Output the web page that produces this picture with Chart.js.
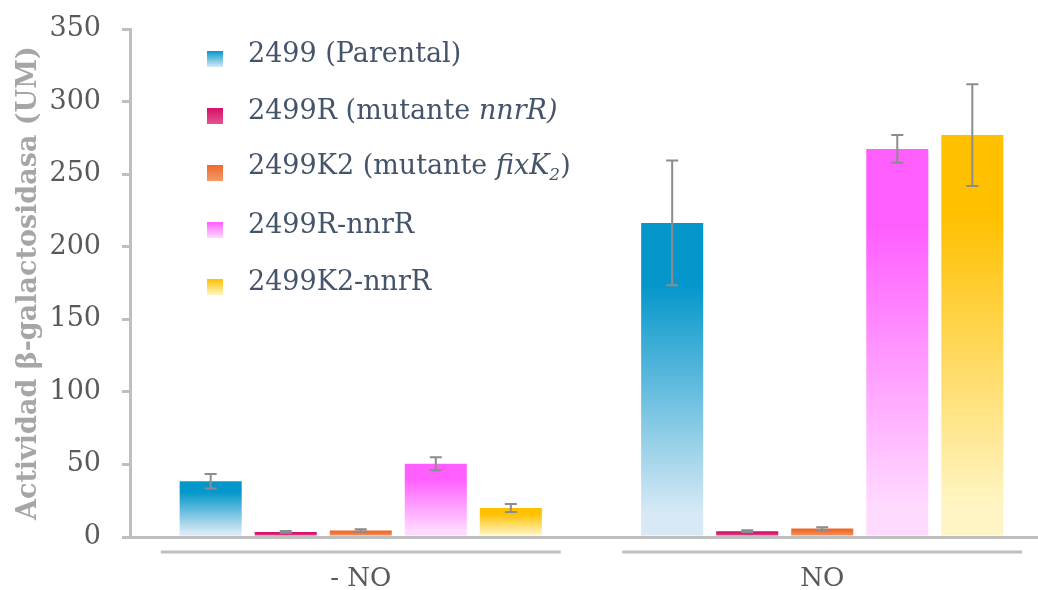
<!DOCTYPE html>
<html>
<head>
<meta charset="utf-8">
<script src="https://cdn.jsdelivr.net/npm/chart.js@4.4.1/dist/chart.umd.min.js"></script>
<style>
  html, body { margin: 0; padding: 0; background: #fff; overflow: hidden; }
  #wrap { position: relative; width: 1053px; height: 590px; overflow: hidden; }
  #chart { position: absolute; left: 0; top: -8px; }
  #legend { position: absolute; left: 207px; top: 24px; font-family: "DejaVu Serif", serif; font-size: 27px; color: #44546A; }
  #legend .row { height: 57px; display: flex; align-items: center; white-space: nowrap; }
  #legend .box { width: 16px; height: 16px; margin-right: 25px; position: relative; top: 6px; }
  #legend sub { font-size: 17px; }
</style>
</head>
<body>
<div id="wrap">
  <canvas id="chart" width="1053" height="598"></canvas>
  <div id="legend"></div>
</div>
<script>
// datos
const categories = ['- NO', 'NO'];
const seriesNames = ['2499 (Parental)', '2499R (mutante nnrR)', '2499K2 (mutante fixK2)', '2499R-nnrR', '2499K2-nnrR'];
const legendHtml = [
    '2499 (Parental)',
    '2499R (mutante <i>nnrR)</i>',
    '2499K2 (mutante <i>fixK<sub>2</sub></i>)',
    '2499R-nnrR',
    '2499K2-nnrR'
];
const yTicks = [0, 50, 100, 150, 200, 250, 300, 350];

const parental = [38.5, 216.5];
const parentalErr = [5, 43];
const mutR = [3.5, 4];
const mutRErr = [0.6, 0.6];
const mutK2 = [4.5, 5.8];
const mutK2Err = [0.8, 1];
const rNnrR = [50.5, 267.5];
const rNnrRErr = [4.5, 9.5];
const k2NnrR = [20, 277];
const k2NnrRErr = [2.7, 35];

const topColors = ['#0597CB', '#D6106A', '#EE6A2A', '#FF5EFF', '#FFC000'];
const bottomColors = ['#D6E9F5', '#E2558F', '#F29A68', '#FFDAFF', '#FFF5C4'];

function barGradient(i) {
    return (c) => {
        const chart = c.chart;
        if (!chart.chartArea || c.raw === undefined) return topColors[i];
        const y = chart.scales.y;
        const g = chart.ctx.createLinearGradient(0, y.getPixelForValue(c.raw), 0, y.getPixelForValue(0));
        g.addColorStop(0, topColors[i]);
        g.addColorStop(0.2, topColors[i]);
        g.addColorStop(0.92, bottomColors[i]);
        g.addColorStop(1, bottomColors[i]);
        return g;
    };
}

const values = [parental, mutR, mutK2, rNnrR, k2NnrR];
const errors = [parentalErr, mutRErr, mutK2Err, rNnrRErr, k2NnrRErr];

const datasets = values.map((v, i) => ({
    label: seriesNames[i],
    data: v,
    errors: errors[i],
    backgroundColor: barGradient(i),
    borderWidth: 0,
    categoryPercentage: 0.813,
    barPercentage: 0.827
}));

// barras de error
const errorBars = {
    id: 'errorBars',
    afterDatasetsDraw(chart) {
        const ctx = chart.ctx;
        const y = chart.scales.y;
        ctx.save();
        ctx.strokeStyle = '#8C8C8C';
        ctx.lineWidth = 2;
        chart.data.datasets.forEach((ds, di) => {
            chart.getDatasetMeta(di).data.forEach((bar, j) => {
                const v = ds.data[j], e = ds.errors[j];
                const yt = y.getPixelForValue(v + e);
                const yb = y.getPixelForValue(v - e);
                ctx.beginPath();
                ctx.moveTo(bar.x, yt); ctx.lineTo(bar.x, yb);
                ctx.moveTo(bar.x - 6, yt); ctx.lineTo(bar.x + 6, yt);
                ctx.moveTo(bar.x - 6, yb); ctx.lineTo(bar.x + 6, yb);
                ctx.stroke();
            });
        });
        ctx.restore();
    }
};

// líneas bajo cada grupo
const groupLines = {
    id: 'groupLines',
    afterDraw(chart) {
        const ctx = chart.ctx;
        const x = chart.scales.x;
        const yy = chart.chartArea.bottom + 15;
        ctx.save();
        ctx.strokeStyle = '#BFBFBF';
        ctx.lineWidth = 3;
        categories.forEach((c, i) => {
            const xc = x.getPixelForValue(i);
            ctx.beginPath();
            ctx.moveTo(xc - 200, yy);
            ctx.lineTo(xc + 200, yy);
            ctx.stroke();
        });
        ctx.restore();
    }
};

new Chart(document.getElementById('chart'), {
    type: 'bar',
    data: { labels: categories, datasets: datasets },
    options: {
        responsive: false,
        animation: false,
        devicePixelRatio: 1,
        layout: { padding: { top: 10, left: 13, right: 0, bottom: 0 } },
        plugins: { legend: { display: false }, tooltip: { enabled: false } },
        scales: {
            x: {
                grid: { display: false, drawTicks: false, tickLength: 0 },
                border: { color: '#BFBFBF', width: 3 },
                ticks: { color: '#595959', font: { family: 'DejaVu Serif', size: 26 }, padding: 27 },
                afterFit: (axis) => { axis.height = 53; }
            },
            y: {
                min: 0,
                max: 350,
                afterBuildTicks: (axis) => { axis.ticks = yTicks.map(v => ({ value: v })); },
                grid: { drawOnChartArea: false, drawTicks: true, tickLength: 8, color: '#BFBFBF', lineWidth: 3 },
                border: { color: '#BFBFBF', width: 3 },
                ticks: { color: '#595959', font: { family: 'DejaVu Serif', size: 27 }, padding: 21 },
                afterFit: (axis) => { axis.width = 117; },
                title: {
                    display: true,
                    text: 'Actividad β-galactosidasa (UM)',
                    color: '#A6A6A6',
                    font: { family: 'DejaVu Serif', size: 27, weight: 'bold' },
                    padding: { top: 0, bottom: 0 }
                }
            }
        }
    },
    plugins: [errorBars, groupLines]
});

// leyenda en HTML
const legend = document.getElementById('legend');
legendHtml.forEach((html, i) => {
    const row = document.createElement('div');
    row.className = 'row';
    row.innerHTML = '<span class="box" style="background:linear-gradient(' + topColors[i] + ',' + bottomColors[i] + ')"></span><span>' + html + '</span>';
    legend.appendChild(row);
});
</script>
</body>
</html>
